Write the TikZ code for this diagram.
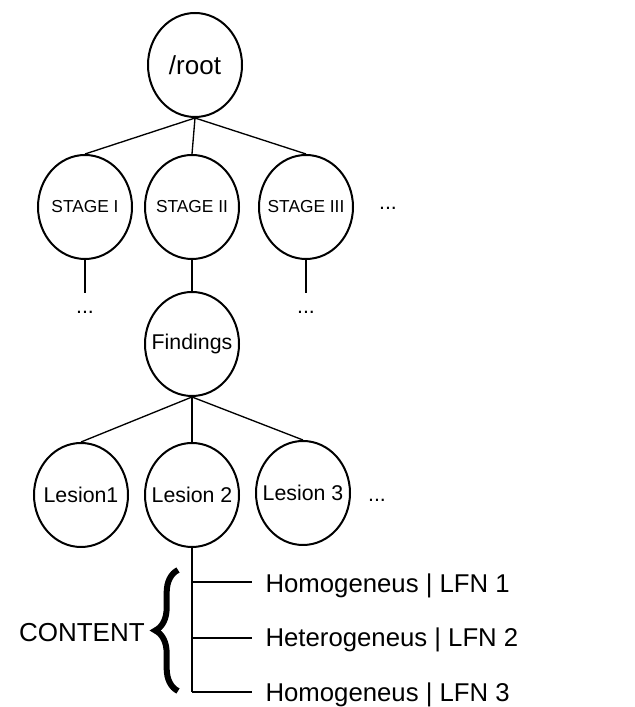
\documentclass[tikz,border=0pt]{standalone}
\usepackage{fontspec}
\setmainfont{Liberation Sans}
\usetikzlibrary{shapes.geometric,decorations.pathreplacing}

\begin{document}
\begin{tikzpicture}[x=0.75pt,y=0.75pt,
		bubble/.style={draw, ellipse, line width=1.5pt, minimum width=70.5pt, minimum height=78pt, inner sep=0pt},
		link/.style={line width=1pt},
		leaf/.style={anchor=base west, inner xsep=10pt, inner ysep=0pt, font=\fontsize{19.3}{23}\selectfont},
		more/.style={anchor=base, inner sep=0pt, font=\fontsize{16}{18}\selectfont}]
			\useasboundingbox (0,0) rectangle (635,707);
			\node[bubble, font=\fontsize{19.5}{22}\selectfont] (root) at (195,642) {\makebox[0pt]{/root}};
			\node[bubble, font=\fontsize{13}{15}\selectfont] (s1) at (85,500) {\makebox[0pt]{STAGE I}};
			\node[bubble, font=\fontsize{13}{15}\selectfont] (s2) at (192,500) {\makebox[0pt]{STAGE II}};
			\node[bubble, font=\fontsize{13}{15}\selectfont] (s3) at (306,500) {\makebox[0pt]{STAGE III}};
			\node[more] (sdots) at (388,497) {...};
			\coordinate (e1) at (85,414);
			\coordinate (e3) at (306,414);
			\node[more] (d1) at (85,393) {...};
			\node[more] (d3) at (306,393) {...};
			\node[bubble, font=\fontsize{16}{18}\selectfont] (find) at (192,363) {\makebox[0pt]{Findings}};
			\node[bubble, font=\fontsize{16}{18}\selectfont] (l1) at (81,212) {\makebox[0pt]{Lesion1}};
			\node[bubble, font=\fontsize{16}{18}\selectfont] (l2) at (192,212) {\makebox[0pt]{Lesion 2}};
			\node[bubble, font=\fontsize{16}{18}\selectfont] (l3) at (303,214) {\makebox[0pt]{Lesion 3}};
			\node[more] (ldots) at (377,205) {...};
			\draw[link] (root.south) -- (s1.north);
			\draw[link] (root.south) -- (s2.north);
			\draw[link] (root.south) -- (s3.north);
			\draw[link] (s1.south) -- (e1);
			\draw[link] (s3.south) -- (e3);
			\draw[link] (s2.south) -- (find.north);
			\draw[link] (find.south) -- (l1.north);
			\draw[link] (find.south) -- (l2.north);
			\draw[link] (find.south) -- (l3.north);
			\coordinate (b1) at (192,125);
			\coordinate (b2) at (192,69);
			\coordinate (b3) at (192,15);
			\node[leaf] (h1) at (252,114) {Homogeneus | LFN 1};
			\node[leaf] (h2) at (252,60) {Heterogeneus | LFN 2};
			\node[leaf] (h3) at (252,5) {Homogeneus | LFN 3};
			\draw[link] (l2.south) -- (b3);
			\draw[link] (b1) -- (b1 -| h1.west);
			\draw[link] (b2) -- (b2 -| h2.west);
			\draw[link] (b3) -- (b3 -| h3.west);
			\coordinate (br1) at (178,16);
			\coordinate (br2) at (178,137);
			\draw[decorate, decoration={brace, amplitude=17pt}, line width=4.5pt] (br1) -- (br2);
			\node[anchor=east, inner sep=0pt, font=\fontsize{19.5}{22}\selectfont] (content) at (145,74) {CONTENT};
		\end{tikzpicture}
\end{document}
